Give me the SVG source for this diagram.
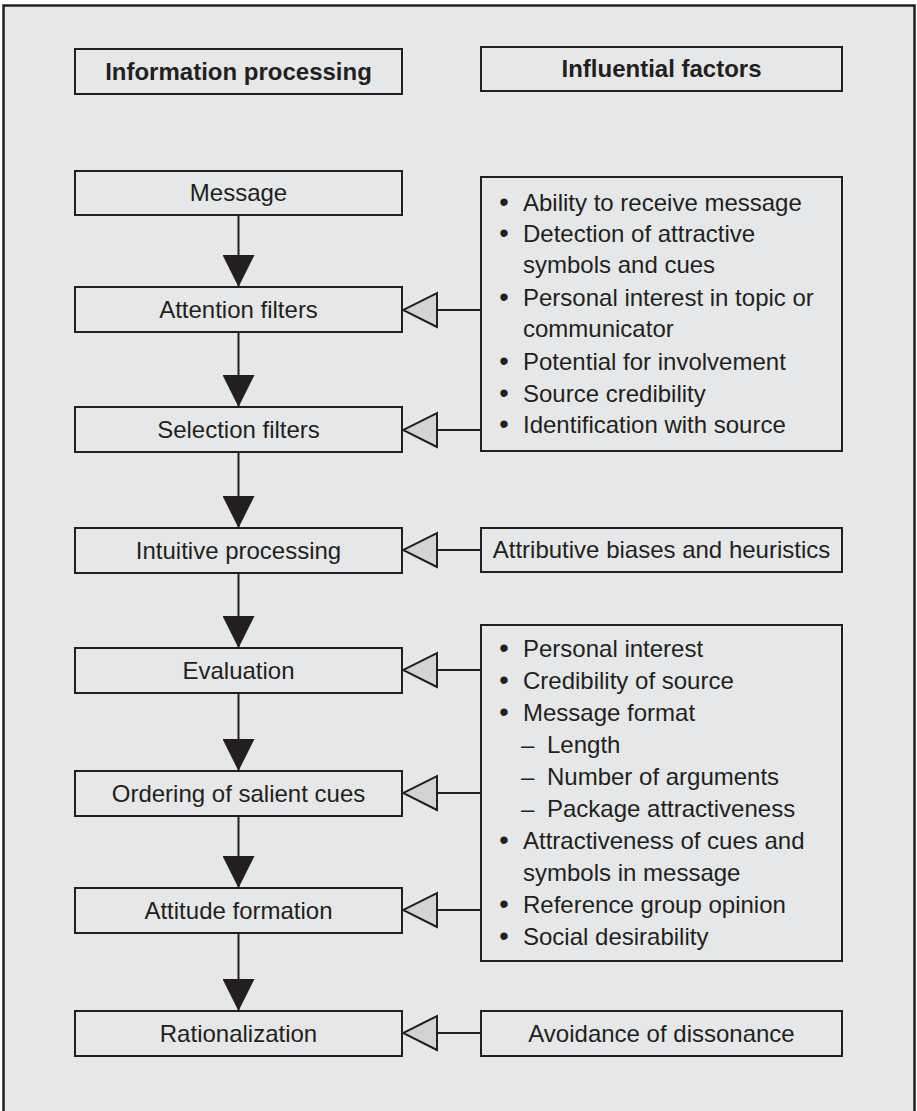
<svg xmlns="http://www.w3.org/2000/svg" width="917" height="1111" viewBox="0 0 917 1111">
  <style>
    .box { fill: #e6e7e8; stroke: #231f20; stroke-width: 2; }
    .frame { fill: #e6e7e8; stroke: #231f20; stroke-width: 2.5; }
    .t { font-family: "Liberation Sans", Arial, sans-serif; font-size: 24px; fill: #231f20; }
    .c { text-anchor: middle; }
    .b { font-weight: bold; }
    .dot { font-size: 27px; }
    .flow { stroke: #231f20; stroke-width: 2; fill: none; marker-end: url(#solid); }
    .feed { stroke: #231f20; stroke-width: 2; fill: none; marker-end: url(#hollow); }
  </style>
  <defs>
    <marker id="solid" markerUnits="userSpaceOnUse" viewBox="0 0 32 32" refX="32" refY="16" markerWidth="32" markerHeight="32" orient="auto">
      <path d="M0,0 L32,16 L0,32 z" fill="#231f20"/>
    </marker>
    <marker id="hollow" markerUnits="userSpaceOnUse" viewBox="-2 -2 38 38" refX="34" refY="17" markerWidth="38" markerHeight="38" orient="auto">
      <path d="M0,0 L34,17 L0,34 z" fill="#d1d3d4" stroke="#231f20" stroke-width="2" stroke-linejoin="miter"/>
    </marker>
  </defs>

  <!-- outer panel; its lower edge runs past the bottom of the canvas -->
  <rect class="frame" x="3.5" y="5.5" width="911" height="1115"/>

  <!-- column headings -->
  <g id="head-processing">
    <rect class="box" x="75" y="49" width="327" height="45"/>
    <text class="t c b" x="238.5" y="80">Information processing</text>
  </g>
  <g id="head-factors">
    <rect class="box" x="481" y="47" width="361" height="44"/>
    <text class="t c b" x="661.5" y="77">Influential factors</text>
  </g>

  <!-- processing stages -->
  <g id="message">
    <rect class="box" x="75" y="171" width="327" height="44"/>
    <text class="t c" x="238.5" y="201">Message</text>
  </g>
  <g id="attention">
    <rect class="box" x="75" y="287" width="327" height="45"/>
    <text class="t c" x="238.5" y="318">Attention filters</text>
  </g>
  <g id="selection">
    <rect class="box" x="75" y="407" width="327" height="45"/>
    <text class="t c" x="238.5" y="438">Selection filters</text>
  </g>
  <g id="intuitive">
    <rect class="box" x="75" y="528" width="327" height="45"/>
    <text class="t c" x="238.5" y="559">Intuitive processing</text>
  </g>
  <g id="evaluation">
    <rect class="box" x="75" y="648" width="327" height="45"/>
    <text class="t c" x="238.5" y="679">Evaluation</text>
  </g>
  <g id="ordering">
    <rect class="box" x="75" y="771" width="327" height="45"/>
    <text class="t c" x="238.5" y="802">Ordering of salient cues</text>
  </g>
  <g id="attitude">
    <rect class="box" x="75" y="888" width="327" height="45"/>
    <text class="t c" x="238.5" y="919">Attitude formation</text>
  </g>
  <g id="rationalization">
    <rect class="box" x="75" y="1011" width="327" height="45"/>
    <text class="t c" x="238.5" y="1042">Rationalization</text>
  </g>

  <!-- influential factors -->
  <g id="factors-filters">
    <rect class="box" x="481" y="177" width="361" height="274"/>
    <g class="t">
      <text class="c dot" x="504" y="211">•</text><text x="523" y="211">Ability to receive message</text>
      <text class="c dot" x="504" y="242">•</text><text x="523" y="242">Detection of attractive</text>
      <text x="523" y="273">symbols and cues</text>
      <text class="c dot" x="504" y="306">•</text><text x="523" y="306">Personal interest in topic or</text>
      <text x="523" y="337">communicator</text>
      <text class="c dot" x="504" y="370">•</text><text x="523" y="370">Potential for involvement</text>
      <text class="c dot" x="504" y="402">•</text><text x="523" y="402">Source credibility</text>
      <text class="c dot" x="504" y="433">•</text><text x="523" y="433">Identification with source</text>
    </g>
  </g>
  <g id="factors-intuitive">
    <rect class="box" x="481" y="528" width="361" height="44"/>
    <text class="t c" x="661.5" y="558">Attributive biases and heuristics</text>
  </g>
  <g id="factors-evaluation">
    <rect class="box" x="481" y="625" width="361" height="336"/>
    <g class="t">
      <text class="c dot" x="504" y="657">•</text><text x="523" y="657">Personal interest</text>
      <text class="c dot" x="504" y="689">•</text><text x="523" y="689">Credibility of source</text>
      <text class="c dot" x="504" y="721">•</text><text x="523" y="721">Message format</text>
      <text x="521" y="753">–</text><text x="547" y="753">Length</text>
      <text x="521" y="785">–</text><text x="547" y="785">Number of arguments</text>
      <text x="521" y="817">–</text><text x="547" y="817">Package attractiveness</text>
      <text class="c dot" x="504" y="849">•</text><text x="523" y="849">Attractiveness of cues and</text>
      <text x="523" y="881">symbols in message</text>
      <text class="c dot" x="504" y="913">•</text><text x="523" y="913">Reference group opinion</text>
      <text class="c dot" x="504" y="945">•</text><text x="523" y="945">Social desirability</text>
    </g>
  </g>
  <g id="factors-rationalization">
    <rect class="box" x="481" y="1011" width="361" height="45"/>
    <text class="t c" x="661.5" y="1042">Avoidance of dissonance</text>
  </g>

  <!-- connectors -->
  <g id="connectors">
    <line class="flow" x1="238.5" y1="215" x2="238.5" y2="287"/>
    <line class="flow" x1="238.5" y1="332" x2="238.5" y2="407"/>
    <line class="flow" x1="238.5" y1="452" x2="238.5" y2="528"/>
    <line class="flow" x1="238.5" y1="573" x2="238.5" y2="648"/>
    <line class="flow" x1="238.5" y1="693" x2="238.5" y2="771"/>
    <line class="flow" x1="238.5" y1="816" x2="238.5" y2="888"/>
    <line class="flow" x1="238.5" y1="933" x2="238.5" y2="1011"/>

    <line class="feed" x1="481" y1="310" x2="403" y2="310"/>
    <line class="feed" x1="481" y1="430" x2="403" y2="430"/>
    <line class="feed" x1="481" y1="550" x2="403" y2="550"/>
    <line class="feed" x1="481" y1="670" x2="403" y2="670"/>
    <line class="feed" x1="481" y1="793" x2="403" y2="793"/>
    <line class="feed" x1="481" y1="910" x2="403" y2="910"/>
    <line class="feed" x1="481" y1="1033" x2="403" y2="1033"/>
  </g>
</svg>
